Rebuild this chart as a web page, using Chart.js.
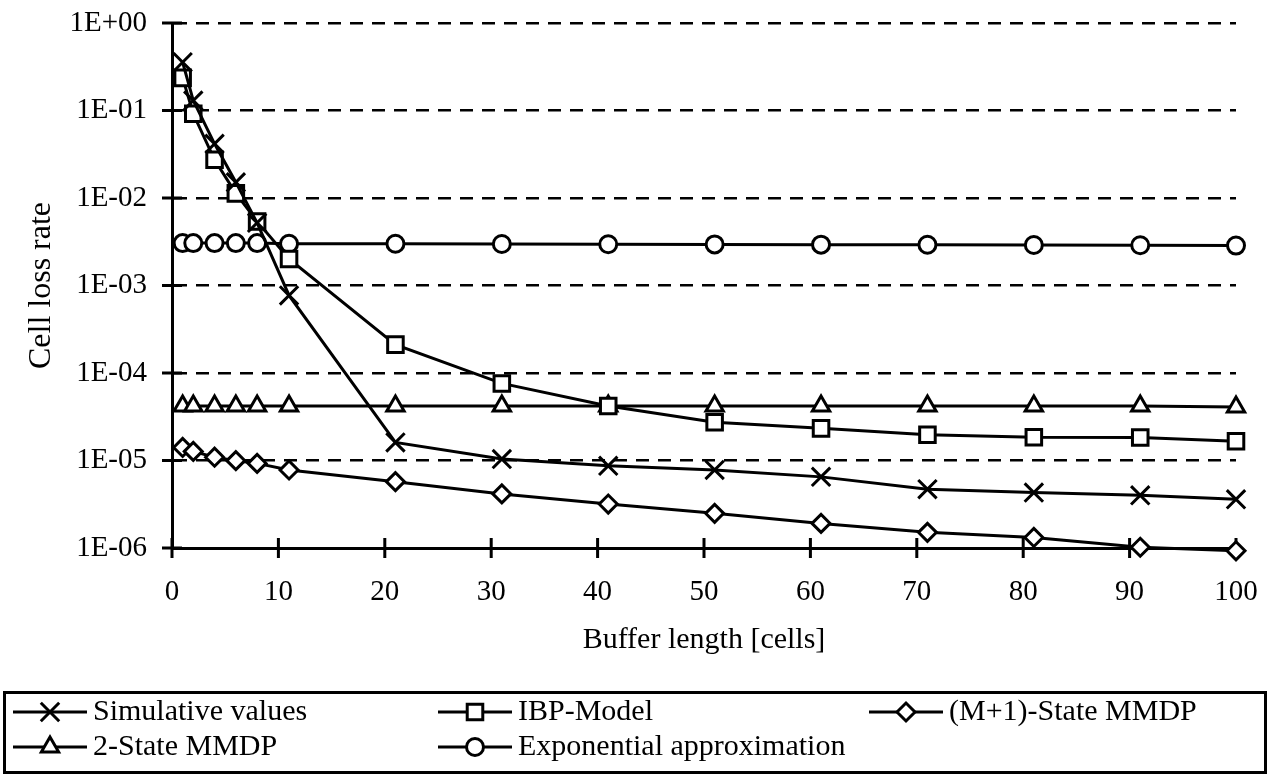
<!DOCTYPE html>
<html>
<head>
<meta charset="utf-8">
<script src="https://cdn.jsdelivr.net/npm/chart.js@4.4.1/dist/chart.umd.min.js"></script>
<style>
html,body{margin:0;padding:0;background:#fff;}
#wrap{width:1270px;height:778px;position:relative;}
</style>
</head>
<body>
<div id="wrap"><canvas id="c" width="1270" height="778"></canvas></div>
<script>
// ---- data ----
const bufferLengths = [1, 2, 4, 6, 8, 11, 21, 31, 41, 51, 61, 71, 81, 91, 100];
const simulativeValues = [0.356, 0.130, 0.0416, 0.0151, 0.0052, 7.7e-4, 1.61e-5, 1.04e-5, 8.7e-6, 7.8e-6, 6.5e-6, 4.7e-6, 4.3e-6, 4.0e-6, 3.6e-6];
const ibpModel = [0.236, 0.0916, 0.0273, 0.0113, 0.0054, 0.00201, 2.11e-4, 7.6e-5, 4.2e-5, 2.73e-5, 2.33e-5, 1.97e-5, 1.84e-5, 1.83e-5, 1.66e-5];
const mPlus1StateMMDP = [1.41e-5, 1.27e-5, 1.09e-5, 9.96e-6, 9.27e-6, 7.8e-6, 5.73e-6, 4.15e-6, 3.18e-6, 2.49e-6, 1.91e-6, 1.51e-6, 1.32e-6, 1.02e-6, 0.93e-6];
const twoStateMMDP = [4.2e-5, 4.2e-5, 4.2e-5, 4.2e-5, 4.2e-5, 4.2e-5, 4.2e-5, 4.2e-5, 4.2e-5, 4.2e-5, 4.2e-5, 4.2e-5, 4.2e-5, 4.2e-5, 4.1e-5];
const exponentialApprox = [3.05e-3, 3.05e-3, 3.05e-3, 3.05e-3, 3.05e-3, 3.0e-3, 3.0e-3, 2.98e-3, 2.96e-3, 2.95e-3, 2.93e-3, 2.92e-3, 2.9e-3, 2.88e-3, 2.86e-3];
const seriesLabels = ['Simulative values', 'IBP-Model', '(M+1)-State MMDP', '2-State MMDP', 'Exponential approximation'];
const xTickValues = [0, 10, 20, 30, 40, 50, 60, 70, 80, 90, 100];
const yTickValues = [1, 1e-1, 1e-2, 1e-3, 1e-4, 1e-5, 1e-6];
const xTitle = 'Buffer length [cells]';
const yTitle = 'Cell loss rate';

const FONT = "'Liberation Serif', 'Times New Roman', serif";
Chart.defaults.font.family = FONT;
Chart.defaults.color = '#000';

function pts(vals) { return bufferLengths.map((x, i) => ({x: x, y: vals[i]})); }
function ds(label, vals, style, r) {
  return {
    label: label, data: pts(vals), borderColor: '#000', borderWidth: 3,
    pointStyle: style, pointRadius: r, pointHoverRadius: r,
    pointBorderColor: '#000', pointBackgroundColor: '#fff', pointBorderWidth: 3,
    backgroundColor: '#fff', tension: 0, clip: false, fill: false
  };
}

function fmtY(v) {
  const n = Math.round(-Math.log10(v));
  return '1E' + (n === 0 ? '+00' : '-' + String(n).padStart(2, '0'));
}

const crossTicks = {
  id: 'crossTicks',
  beforeDatasetsDraw(chart) {
    const ctx = chart.ctx, xs = chart.scales.x, ys = chart.scales.y, a = chart.chartArea;
    ctx.save();
    ctx.strokeStyle = '#000';
    ctx.lineWidth = 3;
    ctx.setLineDash([]);
    ctx.beginPath();
    ys.ticks.forEach(t => {
      const p = ys.getPixelForValue(t.value);
      ctx.moveTo(a.left - 10, p); ctx.lineTo(a.left + 10, p);
    });
    xs.ticks.forEach(t => {
      const p = xs.getPixelForValue(t.value);
      ctx.moveTo(p, a.bottom - 10); ctx.lineTo(p, a.bottom + 10);
    });
    ctx.stroke();
    ctx.restore();
  }
};

function fallbackPoint(ctx, style, r, x, y) {
  ctx.beginPath();
  if (style === 'circle') ctx.arc(x, y, r, 0, Math.PI * 2);
  else if (style === 'rect') { const s = r * Math.SQRT1_2; ctx.rect(x - s, y - s, 2 * s, 2 * s); }
  else if (style === 'rectRot') { ctx.moveTo(x - r, y); ctx.lineTo(x, y - r); ctx.lineTo(x + r, y); ctx.lineTo(x, y + r); ctx.closePath(); }
  else if (style === 'triangle') { ctx.moveTo(x, y - r); ctx.lineTo(x + r * 0.866, y + r / 2); ctx.lineTo(x - r * 0.866, y + r / 2); ctx.closePath(); }
  else if (style === 'crossRot') { const s = r * Math.SQRT1_2; ctx.moveTo(x - s, y - s); ctx.lineTo(x + s, y + s); ctx.moveTo(x + s, y - s); ctx.lineTo(x - s, y + s); }
  if (style !== 'crossRot') ctx.fill();
  ctx.stroke();
}

const boxLegend = {
  id: 'boxLegend',
  afterDraw(chart) {
    const ctx = chart.ctx;
    const colX = [50, 475, 906];
    const rowY = [712, 747];
    ctx.save();
    ctx.strokeStyle = '#000';
    ctx.lineWidth = 3;
    ctx.strokeRect(4.5, 692.5, 1261, 80);
    chart.data.datasets.forEach((d, i) => {
      const cx = colX[i % 3], cy = rowY[Math.floor(i / 3)];
      ctx.lineWidth = 3;
      ctx.strokeStyle = '#000';
      ctx.beginPath(); ctx.moveTo(cx - 37, cy); ctx.lineTo(cx + 37, cy); ctx.stroke();
      ctx.fillStyle = '#fff';
      const opts = {pointStyle: d.pointStyle, radius: d.pointRadius, borderWidth: 3, rotation: 0};
      if (Chart.helpers && Chart.helpers.drawPoint) {
        ctx.fillStyle = '#fff'; ctx.strokeStyle = '#000'; ctx.lineWidth = 3;
        Chart.helpers.drawPoint(ctx, opts, cx, cy);
      } else {
        fallbackPoint(ctx, d.pointStyle, d.pointRadius, cx, cy);
      }
      ctx.fillStyle = '#000';
      ctx.font = '30px ' + FONT;
      ctx.textBaseline = 'middle';
      ctx.textAlign = 'left';
      ctx.fillText(d.label, cx + 43, cy);
    });
    ctx.restore();
  }
};

new Chart(document.getElementById('c'), {
  type: 'line',
  data: {
    datasets: [
      ds(seriesLabels[0], simulativeValues, 'crossRot', 13),
      ds(seriesLabels[1], ibpModel, 'rect', 11),
      ds(seriesLabels[2], mPlus1StateMMDP, 'rectRot', 9),
      ds(seriesLabels[3], twoStateMMDP, 'triangle', 10),
      ds(seriesLabels[4], exponentialApprox, 'circle', 8.5)
    ]
  },
  options: {
    responsive: false,
    animation: false,
    events: [],
    layout: {padding: {left: 0, top: 23, right: 34, bottom: 0}},
    plugins: {legend: {display: false}, tooltip: {enabled: false}, title: {display: false}},
    scales: {
      x: {
        type: 'linear', min: 0, max: 100,
        afterBuildTicks: s => { s.ticks = xTickValues.map(v => ({value: v})); },
        afterFit: s => { s.height = 230; s.paddingLeft = 0; s.paddingRight = 0; },
        ticks: {font: {size: 29}, color: '#000', padding: 27, maxRotation: 0, autoSkip: false},
        grid: {display: false, drawTicks: false},
        border: {display: true, color: '#000', width: 3},
        title: {display: true, text: xTitle, font: {size: 30}, color: '#000', padding: {top: 0, bottom: 120}}
      },
      y: {
        type: 'logarithmic', min: 1e-6, max: 1,
        afterBuildTicks: s => { s.ticks = yTickValues.map(v => ({value: v})); },
        afterFit: s => { s.width = 172; s.paddingTop = 0; s.paddingBottom = 0; },
        ticks: {font: {size: 29}, color: '#000', padding: 25, autoSkip: false, callback: v => fmtY(v)},
        grid: {display: true, drawTicks: false, color: '#000', lineWidth: 2.5},
        border: {display: true, color: '#000', width: 3, dash: [13, 9]},
        title: {display: true, text: yTitle, font: {size: 32}, color: '#000', padding: {top: 22, bottom: 0}}
      }
    }
  },
  plugins: [crossTicks, boxLegend]
});
</script>
</body>
</html>
